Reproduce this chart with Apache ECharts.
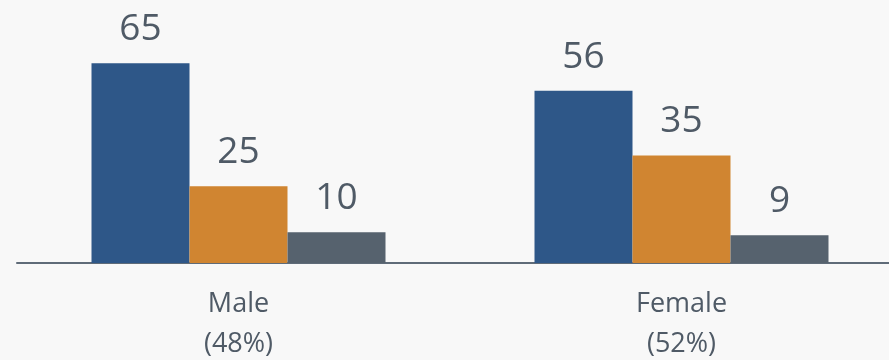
<!DOCTYPE html>
<html>
<head>
<meta charset="utf-8">
<script src="https://cdn.jsdelivr.net/npm/echarts@6/dist/echarts.min.js"></script>
<style>
  html, body { margin: 0; padding: 0; background: #f8f8f8; overflow: hidden; }
  /* axis runs past the right edge in the original, so the canvas is a bit wider than the window */
  #chart { width: 903px; height: 360px; }
</style>
</head>
<body>
<div id="chart"></div>
<script>
// categories and values
const categories = ['Male\n(48%)', 'Female\n(52%)']
const seriesA = [65, 56]
const seriesB = [25, 35]
const seriesC = [10, 9]

const colors = ['#2e5788', '#d08531', '#56626e']
const textColor = '#4f5a66'

const chart = echarts.init(document.getElementById('chart'))

function barSeries(name, data, color) {
  return {
    name: name,
    type: 'bar',
    data: data,
    barWidth: 98,
    barGap: '0%',
    itemStyle: { color: color },
    label: {
      show: true,
      position: 'top',
      distance: 15,
      color: textColor,
      fontFamily: 'Open Sans',
      fontSize: 37
    }
  }
}

chart.setOption({
  backgroundColor: '#f8f8f8',
  animation: false,
  // keep the grid fixed, don't let v6 shrink it to fit the labels
  grid: { left: 17, right: 0, top: 17, bottom: 97, outerBoundsMode: 'none' },
  xAxis: {
    type: 'category',
    data: categories,
    axisLine: { lineStyle: { color: '#5f6b78', width: 2 } },
    axisTick: { show: false },
    axisLabel: {
      color: textColor,
      fontFamily: 'Open Sans',
      fontSize: 27,
      lineHeight: 40,
      margin: 21
    }
  },
  yAxis: {
    type: 'value',
    min: 0,
    max: 80,
    show: false,
    splitLine: { show: false }
  },
  series: [
    barSeries('Series 1', seriesA, colors[0]),
    barSeries('Series 2', seriesB, colors[1]),
    barSeries('Series 3', seriesC, colors[2])
  ]
})
</script>
</body>
</html>
